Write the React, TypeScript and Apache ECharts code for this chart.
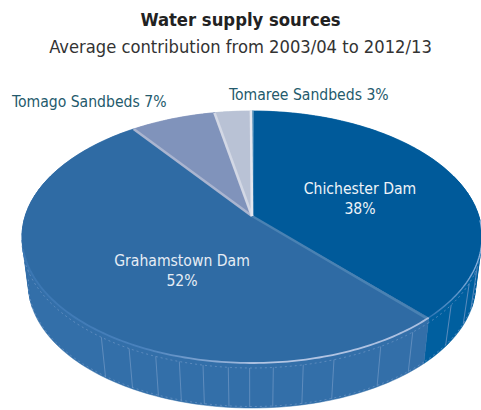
import React, { useEffect, useRef } from "react";
import * as echarts from "echarts";

// Slice data, clockwise from twelve o'clock
const sliceNames = ["Chichester Dam", "Grahamstown Dam", "Tomago Sandbeds", "Tomaree Sandbeds"];
const sliceValues = [38, 52, 7, 3];
const topColors = ["#005a9a", "#2f6ba4", "#8093bb", "#b9c2d5"];
const sideColors = ["#005f9f", "#336fa9", "#8093bb", "#b9c2d5"];
// Bevel colour along the clockwise end of each slice
const seamColors = ["#4a82b3", "#aab5d0", "#d3d8e5", "#e4e7ef"];
const labelAnchors = [
  { x: 360, y: 199, fill: "#eef3f8", align: "center" },
  { x: 182, y: 271, fill: "#e6edf5", align: "center" },
  { x: 12, y: 102, fill: "#245a6c", align: "left" },
  { x: 229, y: 95, fill: "#245a6c", align: "left" },
];

// Facet lines on the rim, in degrees clockwise from twelve o'clock
const ribAngles = [111, 118, 128, 142, 151, 162.3, 169.1, 175.5, 180.5, 185, 190.4, 195.6, 201, 207.5, 215];

const titleText = "Water supply sources";
const subtitleText = "Average contribution from 2003/04 to 2012/13";

const FONT = "'DejaVu Sans Condensed', 'Noto Sans', sans-serif";

// Perspective disc: the centre sits above the middle of the visible ellipse
const top = { cx: 252, cy: 216, a: 226.8, b: 122.5, k: 0.1667 };
const base = { cx: 252, cy: 264, a: 220.5, b: 120, k: 0.1667 };
type Plane = typeof top;

const project = (p: Plane, deg: number): [number, number] => {
  const t = (deg * Math.PI) / 180;
  const w = 1 + p.k * Math.cos(t);
  return [p.cx + (p.a * Math.sin(t)) / w, p.cy - (p.b * Math.cos(t)) / w];
};

const arc = (p: Plane, from: number, to: number): [number, number][] => {
  const steps = Math.max(2, Math.ceil(Math.abs(to - from)));
  const out: [number, number][] = [];
  for (let i = 0; i <= steps; i++) out.push(project(p, from + ((to - from) * i) / steps));
  return out;
};

const total = sliceValues.reduce((s, v) => s + v, 0);
const sliceRange = (i: number): [number, number] => {
  const before = sliceValues.slice(0, i).reduce((s, v) => s + v, 0);
  return [(before / total) * 360, ((before + sliceValues[i]) / total) * 360];
};

// Sweeps from the upper rim to the lower one, so the outline runs straight
// down the tangent at both ends of the disc
const sweepWindows: [number, number][] = [
  [70, 110],
  [250, 290],
];

const drawSide = (params: any) => {
  const i = params.dataIndex;
  const [from, to] = sliceRange(i);
  const children: any[] = [
    {
      type: "polygon",
      shape: { points: [...arc(top, from, to), ...arc(base, to, from)] },
      style: { fill: sideColors[i], stroke: sideColors[i], lineWidth: 0.5 },
    },
  ];
  sweepWindows.forEach(([a, b]) => {
    const lo = Math.max(a, from);
    const hi = Math.min(b, to);
    for (let d = lo; d < hi; d += 3) {
      const e = Math.min(d + 3, hi);
      children.push({
        type: "polygon",
        shape: { points: [project(top, d), project(top, e), project(base, e), project(base, d)] },
        style: { fill: sideColors[i], stroke: sideColors[i], lineWidth: 0.5 },
      });
    }
  });
  ribAngles
    .filter((d) => d >= from && d < to)
    .forEach((d) => {
      const upper = project(top, d);
      const lower = project(base, d);
      children.push({
        type: "line",
        shape: { x1: upper[0], y1: upper[1] + 5, x2: lower[0], y2: lower[1] - 1 },
        style: { stroke: "#6490c0", lineWidth: 0.9 },
      });
    });
  const visFrom = Math.max(from, 95);
  const visTo = Math.min(to, 262);
  if (visTo > visFrom) {
    children.push({
      type: "polyline",
      shape: { points: arc(top, visFrom, visTo).map(([x, y]) => [x, y + 5]) },
      style: { stroke: "#6f97c6", lineWidth: 0.7, lineDash: [2, 3], fill: "none" },
    });
    children.push({
      type: "polyline",
      shape: { points: arc(base, visFrom, visTo).map(([x, y]) => [x, y - 1.5]) },
      style: { stroke: "#6f97c6", lineWidth: 0.7, lineDash: [2, 3], fill: "none" },
    });
  }
  return { type: "group", children };
};

const drawTop = (params: any) => {
  const i = params.dataIndex;
  const [from, to] = sliceRange(i);
  return {
    type: "polygon",
    shape: { points: [[top.cx, top.cy], ...arc(top, from, to)] },
    style: { fill: topColors[i], stroke: topColors[i], lineWidth: 0.4 },
  };
};

const rimStroke = (stops: [number, string][]) =>
  new echarts.graphic.LinearGradient(0, 0, 1, 0, stops.map(([offset, color]) => ({ offset, color })));

// Bevels, rim highlights and texts, above every slice
const drawDetail = (params: any) => {
  const i = params.dataIndex;
  const [from, to] = sliceRange(i);
  const apex: [number, number] = [top.cx, top.cy];
  const children: any[] = [];
  // Chichester's end bevel leans onto the next slice, the others stay on the edge
  const edge = project(top, i === 0 ? to + 0.5 : to - 0.3);
  children.push({
    type: "line",
    shape: { x1: apex[0], y1: apex[1], x2: edge[0], y2: edge[1] },
    style: { stroke: seamColors[i], lineWidth: i === 0 ? 2.4 : 2.6 },
  });
  if (i === 0) {
    const start = project(top, 0.35);
    children.push({
      type: "line",
      shape: { x1: apex[0] + 0.5, y1: apex[1], x2: start[0], y2: start[1] },
      style: { stroke: "#4a8cb9", lineWidth: 1.6 },
    });
    children.push({
      type: "polyline",
      shape: { points: arc(top, 92, to) },
      style: {
        stroke: rimStroke([
          [0, "#2d75b4"],
          [1, "#8fb4de"],
        ]),
        lineWidth: 1.4,
        fill: "none",
      },
    });
  }
  if (i === 1) {
    children.push({
      type: "polyline",
      shape: { points: arc(top, from, 255) },
      style: {
        stroke: rimStroke([
          [0, "#3a76b2"],
          [0.3, "#4a82bd"],
          [0.6, "#b4c6e4"],
          [1, "#aabfe0"],
        ]),
        lineWidth: 1.8,
        fill: "none",
      },
    });
  }
  const anchor = labelAnchors[i];
  const inside = i < 2;
  children.push({
    type: "text",
    style: {
      text: inside ? `${sliceNames[i]}\n${sliceValues[i]}%` : `${sliceNames[i]} ${sliceValues[i]}%`,
      x: anchor.x,
      y: anchor.y,
      fill: anchor.fill,
      align: anchor.align,
      verticalAlign: "middle",
      font: `15.6px ${FONT}`,
      lineHeight: 20,
    },
  });
  return { type: "group", children };
};

export default function App() {
  const ref = useRef<HTMLDivElement>(null);
  useEffect(() => {
    document.body.style.margin = "0";
    const chart = echarts.init(ref.current!, undefined, { renderer: "svg" });
    const rows = sliceValues.map((value, i) => ({ name: sliceNames[i], value }));
    chart.setOption({
      animation: false,
      title: [
        {
          text: titleText,
          left: "center",
          top: 5,
          textStyle: { fontFamily: FONT, fontSize: 18.3, fontWeight: "bold", color: "#222222" },
        },
        {
          text: subtitleText,
          left: "center",
          top: 32,
          textStyle: { fontFamily: FONT, fontSize: 18.2, fontWeight: "normal", color: "#333333" },
        },
      ],
      series: [
        { type: "custom", coordinateSystem: "none", renderItem: drawSide, data: rows, z: 1, silent: true },
        { type: "custom", coordinateSystem: "none", renderItem: drawTop, data: rows, z: 2, silent: true },
        { type: "custom", coordinateSystem: "none", renderItem: drawDetail, data: rows, z: 3, silent: true },
      ],
    });
    return () => chart.dispose();
  }, []);
  return <div ref={ref} style={{ width: 481, height: 410 }} />;
}
